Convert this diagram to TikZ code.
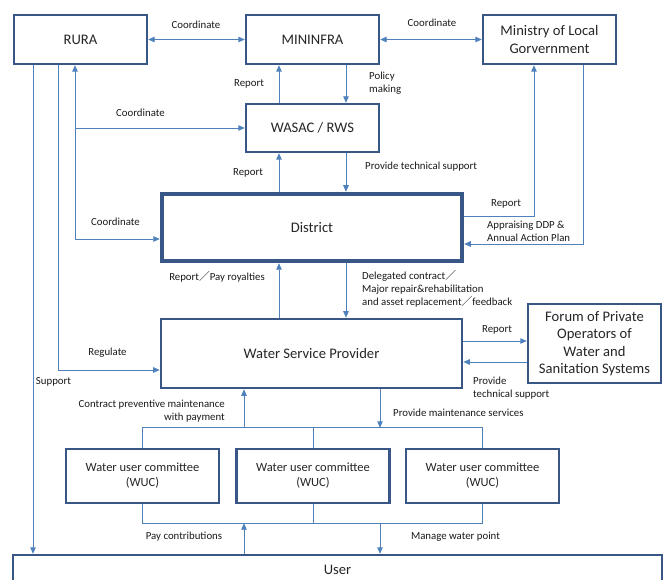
\documentclass[tikz,border=0pt]{standalone}
\usepackage{fontspec}
\setmainfont{Carlito}
\newfontfamily\cjk{Noto Sans CJK SC}
\usepackage{xcolor}
\usetikzlibrary{positioning,arrows.meta}
\definecolor{boxblue}{RGB}{56,87,135}
\definecolor{linkblue}{RGB}{79,129,189}
\newcommand{\fsl}{{\cjk ／}}

\begin{document}
\begin{tikzpicture}[x=1pt,y=-1pt]
\tikzstyle{every node}+=[inner sep=0pt]
\tikzstyle{unit}=[draw=boxblue, line width=2.4pt, fill=white, align=center, text=black!85, font=\fontsize{14.6}{17.5}\selectfont]
\tikzstyle{wuc}=[unit, minimum width=153pt, minimum height=54pt, font=\fontsize{12.5}{15}\selectfont]
\tikzstyle{link}=[draw=linkblue, line width=0.9pt, >={Triangle[length=6.5pt,width=5.5pt]}]
\tikzstyle{lbl}=[font=\fontsize{10.8}{13}\selectfont, text=black!90]
\useasboundingbox (0,0) rectangle (667,580);

\node[unit, minimum width=133pt, minimum height=49pt] (rura) at (80.5,39.5) {RURA};
\node[unit, minimum width=133pt, minimum height=49pt] (mininfra) at (312.5,39.5) {MININFRA};
\node[unit, minimum width=133pt, minimum height=49pt] (molg) at (549.5,39.5) {Ministry of Local\\Gorvernment};
\node[unit, minimum width=133pt, minimum height=48pt] (wasac) at (312.5,128) {WASAC / RWS};
\node[unit, line width=4.5pt, minimum width=300pt, minimum height=67pt] (district) at (312,227.5) {District};
\node[unit, line width=2.6pt, minimum width=301pt, minimum height=69pt] (wsp) at (311.5,353.5) {Water Service Provider};
\node[unit, minimum width=133pt, minimum height=79pt] (forum) at (594.5,343.5) {Forum of Private\\Operators of\\Water and\\Sanitation Systems};
\node[wuc] (wuc1) at (142.5,476) {Water user committee\\(WUC)};
\node[wuc] (wuc2) at (313,476) {Water user committee\\(WUC)};
\node[wuc] (wuc3) at (482.5,476) {Water user committee\\(WUC)};
\node[unit, minimum width=649pt, minimum height=30pt] (user) at (337.5,570) {User};

\coordinate (xSup) at (33,0);
\coordinate (xReg) at (58,0);
\coordinate (xCo) at (75,0);
\coordinate (xUp) at (279,0);
\coordinate (xDn) at (346,0);
\coordinate (xRep) at (534,0);
\coordinate (xApp) at (583,0);
\coordinate (xWup) at (244,0);
\coordinate (xWdn) at (380,0);

% top row
\draw[link,<->] (rura) -- (mininfra);
\draw[link,<->] (mininfra) -- (molg);
\node[lbl] (lcoord1) at (196,25) {Coordinate};
\node[lbl] (lcoord2) at (432,23) {Coordinate};

% ministry / wasac / district
\draw[link,->] (wasac.north -| xUp) -- (mininfra.south -| xUp);
\draw[link,->] (mininfra.south -| xDn) -- (wasac.north -| xDn);
\draw[link,->] (district.north -| xUp) -- (wasac.south -| xUp);
\draw[link,->] (wasac.south -| xDn) -- (district.north -| xDn);
\node[lbl] (lrep1) at (249,84) {Report};
\node[lbl, anchor=west, align=left] (lpol) at (369,83) {Policy\\making};
\node[lbl] (lrep2) at (248,173) {Report};
\node[lbl, anchor=west] (ltech1) at (365,167) {Provide technical support};

% RURA links
\coordinate (dIn) at ([yshift=-11.5pt]district.west);
\coordinate (pIn) at ([yshift=-16.5pt]wsp.west);
\draw[link,<->] (rura.south -| xCo) -- (xCo |- dIn) -- (dIn);
\draw[link,->] (xCo |- wasac.west) -- (wasac.west);
\draw[link,->] (rura.south -| xReg) -- (xReg |- pIn) -- (pIn);
\draw[link,->] (rura.south -| xSup) -- (user.north -| xSup);
\node[lbl] (lcoord3) at (140.5,113) {Coordinate};
\node[lbl] (lcoord4) at (115.5,222) {Coordinate};
\node[lbl] (lreg) at (107.5,353) {Regulate};
\node[lbl] (lsup) at (53.5,382) {Support};

% local government
\coordinate (dOut) at ([yshift=11.5pt]district.east);
\coordinate (dBack) at ([yshift=-16.5pt]district.east);
\draw[link,->] (dOut) -| (molg.south -| xRep);
\draw[link,->] (molg.south -| xApp) |- (dBack);
\node[lbl] (lrep3) at (506,204) {Report};
\node[lbl, anchor=west, align=left] (lapp) at (487,231.5) {Appraising DDP \&\\Annual Action Plan};

% district / provider
\draw[link,->] (wsp.north -| xUp) -- (district.south -| xUp);
\draw[link,->] (district.south -| xDn) -- (wsp.north -| xDn);
\node[lbl] (lroy) at (217,277) {Report\fsl Pay royalties};
\node[lbl, anchor=west, align=left] (ldel) at (362,289) {Delegated contract\fsl\\Major repair\&rehabilitation\\and asset replacement\fsl feedback};

% forum
\coordinate (pOut) at ([yshift=12.5pt]wsp.east);
\coordinate (pBack) at ([yshift=-8.5pt]wsp.east);
\draw[link,->] (pOut) -- (forum.west |- pOut);
\draw[link,->] (forum.west |- pBack) -- (pBack);
\node[lbl] (lrep4) at (497,330) {Report};
\node[lbl, anchor=west, align=left] (ltech2) at (473,388.5) {Provide\\technical support};

% water user committees
\draw[link] (wuc1.north) -- ++(0,-20) coordinate (busT) -| (wuc3.north);
\draw[link] (wuc2.north) -- (wuc2.north |- busT);
\draw[link,->] (xWup |- busT) -- (wsp.south -| xWup);
\draw[link,->] (wsp.south -| xWdn) -- (xWdn |- busT);
\node[lbl, anchor=east, align=right] (lcon) at (225,411.5) {Contract preventive maintenance\\with payment};
\node[lbl, anchor=west] (lmain) at (393,413) {Provide maintenance services};

\draw[link] (wuc1.south) -- ++(0,19) coordinate (busB) -| (wuc3.south);
\draw[link] (wuc2.south) -- (wuc2.south |- busB);
\draw[link,->] (user.north -| xWup) -- (xWup |- busB);
\draw[link,->] (xWdn |- busB) -- (user.north -| xWdn);
\node[lbl] (lpay) at (184,537) {Pay contributions};
\node[lbl] (lman) at (455.5,537) {Manage water point};
\end{tikzpicture}
\end{document}
